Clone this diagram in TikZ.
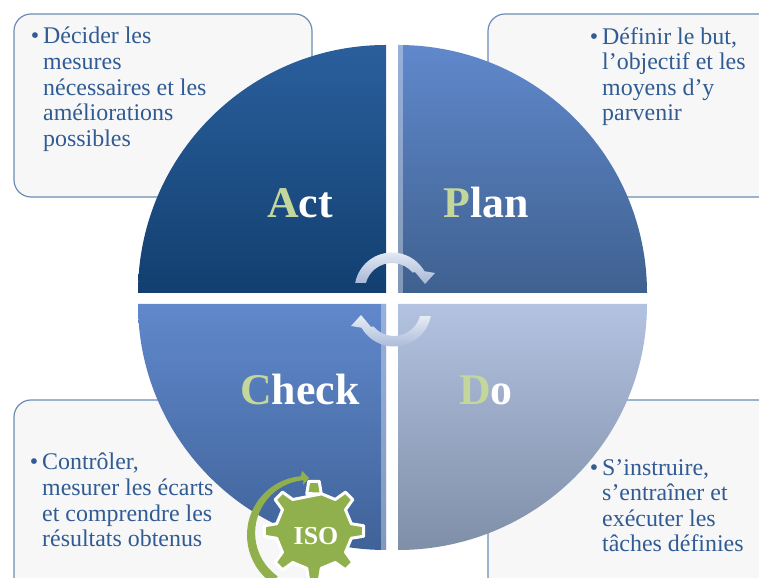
\documentclass[tikz,border=0pt]{standalone}
\usepackage{fontspec}
\setmainfont{Liberation Serif}
\definecolor{txt}{HTML}{305B93}
\definecolor{edge}{HTML}{6C8CB4}
\definecolor{boxfill}{HTML}{F7F7F8}
\definecolor{lettre}{HTML}{C3D69B}
\definecolor{isogreen}{HTML}{8FB04C}
\definecolor{aTop}{HTML}{2A5F9C}
\definecolor{aBot}{HTML}{123F70}
\definecolor{pTop}{HTML}{6088CB}
\definecolor{pBot}{HTML}{3F6190}
\definecolor{cTop}{HTML}{6088CB}
\definecolor{cBot}{HTML}{3F6298}
\definecolor{dTop}{HTML}{B2C2E0}
\definecolor{dBot}{HTML}{7F8FA8}
\definecolor{arrowLight}{HTML}{E8EEF6}
\definecolor{arrowDark}{HTML}{A6B6D6}
\tikzset{
  infobox/.style={draw=edge,line width=1.2pt,fill=boxfill,rounded corners=17bp},
  infotext/.style={anchor=north west,inner sep=0pt,align=left,text=txt,font=\fontsize{24}{25.7}\selectfont},
  biglabel/.style={inner sep=0pt,text=white,font=\fontsize{44}{48}\selectfont\bfseries},
  cyclearrow/.style={top color=arrowLight,bottom color=arrowDark,draw=none},
  strip/.style={fill=white,fill opacity=.35,draw=none}
}
\newcommand{\bul}{\llap{\textbullet\hspace{4bp}}}
\newcommand{\Le}[1]{\textcolor{lettre}{#1}}
\begin{document}
\begin{tikzpicture}[x=1bp,y=1bp]
\useasboundingbox (0,0) rectangle (759,578);
\clip (0,0) rectangle (759,578);
% boxes
\draw[infobox] (14,381) rectangle (312,564);
\draw[infobox] (488,381) rectangle (790,564);
\draw[infobox] (14,-30) rectangle (312,178);
\draw[infobox] (488,-30) rectangle (790,178);
% sectors
\shade[top color=aTop,bottom color=aBot] (386,285) -- (138,285) arc[start angle=180,end angle=90,x radius=248,y radius=248] -- cycle;
\shade[top color=pTop,bottom color=pBot] (398,285) -- (647,285) arc[start angle=0,end angle=90,x radius=249,y radius=248] -- cycle;
\shade[top color=cTop,bottom color=cBot] (386,274) -- (138,274) arc[start angle=180,end angle=270,x radius=248,y radius=246] -- cycle;
\shade[top color=dTop,bottom color=dBot] (398,274) -- (647,274) arc[start angle=0,end angle=-90,x radius=249,y radius=246] -- cycle;
% bevels
\fill[strip] (398,285) rectangle (403,533);
\fill[strip] (381,274) rectangle (386,28);
% cycle arrows
\begin{scope}[shift={(392,288)}]
\shade[cyclearrow] (169:37.5) arc[start angle=169,end angle=30,radius=37.5] -- (43,17) -- (33,6) -- (23,18) -- (40:27) arc[start angle=40,end angle=165,radius=27] -- cycle;
\end{scope}
\begin{scope}[shift={(394,269)},rotate=180]
\shade[cyclearrow] (169:37.5) arc[start angle=169,end angle=30,radius=37.5] -- (43,17) -- (33,6) -- (23,18) -- (40:27) arc[start angle=40,end angle=165,radius=27] -- cycle;
\end{scope}
% big labels
\node[biglabel] (act) at (300,375) {\Le{A}ct};
\node[biglabel] (plan) at (486,375) {\Le{P}lan};
\node[biglabel] (check) at (300,188) {\Le{C}heck};
\node[biglabel] (do) at (486,188) {\Le{D}o};
% texts
\node[infotext] (t1) at (43,551) {\bul Décider les\\mesures\\nécessaires et les\\améliorations\\possibles};
\node[infotext] (t2) at (602,551) {\bul Définir le but,\\l’objectif et les\\moyens d’y\\parvenir};
\node[infotext] (t3) at (42,125) {\bul Contrôler,\\mesurer les écarts\\et comprendre les\\résultats obtenus};
\node[infotext] (t4) at (602,119) {\bul S’instruire,\\s’entraîner et\\exécuter les\\tâches définies};
% ISO mark
\fill[isogreen] (306,43) ++(235:59) arc[start angle=235,end angle=95,radius=59] -- (302,107) -- (309,100) -- (303,93) -- (303.5,97.8) arc[start angle=95,end angle=235,radius=53] -- cycle;
\begin{scope}[shift={(314,47)}]
\filldraw[fill=isogreen,draw=white,line width=3pt,line join=round]
  (78:38) \foreach \a in {90,45,0,-45,-90,-135,180,135}{ -- ({\a+11}:38) -- ({\a+6}:50) -- ({\a-6}:50) -- ({\a-11}:38) } -- cycle;
\end{scope}
\node[inner sep=0pt,text=white,font=\fontsize{26}{28}\selectfont\bfseries] (iso) at (316,42) {ISO};
\end{tikzpicture}
\end{document}
